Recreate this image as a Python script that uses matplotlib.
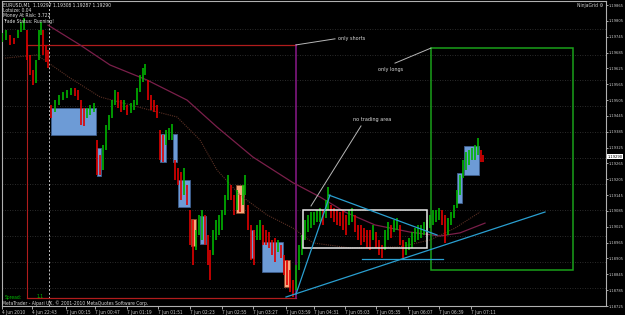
import matplotlib
matplotlib.use("Agg")
import matplotlib.pyplot as plt
import matplotlib.transforms as mtransforms
from matplotlib.patches import Rectangle

plt.rcParams['font.family'] = ['Liberation Sans Narrow', 'DejaVu Sans']
plt.rcParams['font.stretch'] = 'condensed'

# ---- price data (EURUSD M1, bar index ~ minutes) ----
bar_x = [2, 6, 10, 14, 18, 21, 24, 27, 30, 33, 36, 39, 41, 43, 46, 48,
         51, 55, 59, 63, 67, 71, 75, 78, 81, 84, 87, 90, 94, 97, 100, 103,
         106, 109, 112, 115, 118, 121, 124, 127, 131, 134, 137, 140, 143, 145,
         148, 151, 154, 157, 160, 163, 166, 169, 172, 175, 178, 181, 184, 187,
         190, 193, 196, 199, 202, 205, 208, 210, 213, 216, 219, 222, 225, 228,
         231, 234, 237, 240, 243, 245, 248, 251, 254, 257, 260, 263, 266, 269,
         272, 275, 278, 281, 284, 287, 290, 293, 296, 299, 302, 305, 308, 311,
         314, 317, 320, 323, 326, 328, 331, 334, 337, 340, 343, 346, 349, 352,
         355, 358, 361, 364, 367, 370, 373, 376, 379, 382, 385, 388, 391, 394,
         397, 400, 403, 406, 409, 412, 415, 418, 421, 424, 427, 430, 433, 436,
         439, 442, 445, 448, 451, 454, 457, 460, 463, 466, 469, 472, 475, 478,
         481, 483]
bar_hi = [1.19759, 1.19770, 1.19752, 1.19740, 1.19770, 1.19801, 1.19816, 1.19770,
          1.19676, 1.19619, 1.19657, 1.19770, 1.19801, 1.19770, 1.19714, 1.19695,
          1.19486, 1.19505, 1.19524, 1.19536, 1.19543, 1.19551, 1.19551, 1.19543,
          1.19505, 1.19475, 1.19475, 1.19486, 1.19494, 1.19354, 1.19297, 1.19335,
          1.19411, 1.19449, 1.19505, 1.19543, 1.19536, 1.19505, 1.19505, 1.19486,
          1.19494, 1.19505, 1.19551, 1.19600, 1.19627, 1.19642, 1.19581, 1.19524,
          1.19505, 1.19486, 1.19392, 1.19373, 1.19392, 1.19399, 1.19414, 1.19278,
          1.19248, 1.19233, 1.19248, 1.19183, 1.19089, 1.19051, 1.19013, 1.19070,
          1.19089, 1.19070, 1.18994, 1.18937, 1.19013, 1.19051, 1.19070, 1.19089,
          1.19145, 1.19221, 1.19183, 1.19145, 1.19164, 1.19145, 1.19183, 1.19221,
          1.19108, 1.19032, 1.19013, 1.19032, 1.19051, 1.19032, 1.19013, 1.19005,
          1.18975, 1.18983, 1.18975, 1.18956, 1.18918, 1.18899, 1.18861, 1.18823,
          1.18880, 1.18956, 1.18994, 1.19051, 1.19070, 1.19081, 1.19081, 1.19089,
          1.19096, 1.19089, 1.19127, 1.19176, 1.19108, 1.19096, 1.19089, 1.19081,
          1.19089, 1.19070, 1.19089, 1.19096, 1.19070, 1.19032, 1.19032, 1.19020,
          1.19013, 1.19013, 1.19032, 1.19005, 1.18975, 1.18956, 1.19013, 1.19043,
          1.19032, 1.19051, 1.19058, 1.19032, 1.18975, 1.18967, 1.18983, 1.19005,
          1.19020, 1.19032, 1.19032, 1.19043, 1.19051, 1.19070, 1.19089, 1.19089,
          1.19096, 1.19089, 1.19070, 1.19058, 1.19081, 1.19108, 1.19164, 1.19221,
          1.19278, 1.19308, 1.19316, 1.19324, 1.19335, 1.19361, 1.19316, 1.19297]
bar_lo = [1.19725, 1.19733, 1.19714, 1.19717, 1.19740, 1.19763, 1.19770, 1.19657,
          1.19600, 1.19562, 1.19570, 1.19657, 1.19752, 1.19676, 1.19649, 1.19627,
          1.19437, 1.19460, 1.19486, 1.19505, 1.19513, 1.19524, 1.19520, 1.19505,
          1.19411, 1.19407, 1.19437, 1.19449, 1.19460, 1.19221, 1.19221, 1.19240,
          1.19316, 1.19392, 1.19437, 1.19486, 1.19475, 1.19460, 1.19467, 1.19449,
          1.19456, 1.19467, 1.19486, 1.19536, 1.19574, 1.19600, 1.19505, 1.19467,
          1.19460, 1.19437, 1.19278, 1.19270, 1.19335, 1.19354, 1.19354, 1.19202,
          1.19183, 1.19127, 1.19145, 1.19108, 1.18956, 1.18880, 1.18937, 1.18994,
          1.18975, 1.18956, 1.18880, 1.18823, 1.18918, 1.18975, 1.18994, 1.19013,
          1.19070, 1.19127, 1.19127, 1.19070, 1.19089, 1.19081, 1.19108, 1.19145,
          1.19013, 1.18899, 1.18880, 1.18975, 1.18975, 1.18956, 1.18956, 1.18945,
          1.18918, 1.18892, 1.18930, 1.18907, 1.18842, 1.18805, 1.18778, 1.18759,
          1.18786, 1.18861, 1.18918, 1.18975, 1.19005, 1.19020, 1.19032, 1.19043,
          1.19043, 1.19032, 1.19058, 1.19089, 1.19058, 1.19043, 1.19032, 1.19028,
          1.19013, 1.18994, 1.19032, 1.19043, 1.19005, 1.18975, 1.18956, 1.18967,
          1.18945, 1.18937, 1.18975, 1.18945, 1.18918, 1.18907, 1.18937, 1.18975,
          1.18983, 1.19005, 1.19013, 1.18956, 1.18907, 1.18918, 1.18937, 1.18945,
          1.18967, 1.18975, 1.18983, 1.18994, 1.19005, 1.19020, 1.19032, 1.19043,
          1.19051, 1.19032, 1.18964, 1.18994, 1.19032, 1.19058, 1.19096, 1.19145,
          1.19210, 1.19240, 1.19259, 1.19278, 1.19278, 1.19297, 1.19270, 1.19270]

# moving averages (read at a few points)
ma_slow_x = [48, 80, 110, 147, 187, 217, 253, 293, 320, 345, 375, 410, 440, 460, 485]
ma_slow_y = [1.19789, 1.19714, 1.19638, 1.19581, 1.19505, 1.19403, 1.19289, 1.19192,
             1.19138, 1.19081, 1.19032, 1.19005, 1.18990, 1.19002, 1.19039]
ma_fast_x = [5, 37, 70, 100, 150, 177, 200, 217, 240, 267, 293, 313, 350, 400, 430, 455, 480]
ma_fast_y = [1.19664, 1.19676, 1.19589, 1.19517, 1.19467, 1.19441, 1.19354, 1.19240,
             1.19145, 1.19070, 1.19020, 1.18964, 1.18945, 1.18949, 1.18975, 1.19020, 1.19081]

# zones: (x0, x1, top, bottom)
blue_zones = [(51, 96, 1.19475, 1.19373), (97, 101, 1.19324, 1.19217),
              (160, 166, 1.19377, 1.19270), (173, 177, 1.19377, 1.19270),
              (178, 190, 1.19202, 1.19100), (200, 206, 1.19066, 1.18960),
              (250, 254, 1.19013, 1.18907), (262, 283, 1.18967, 1.18854),
              (457, 462, 1.19229, 1.19115), (464, 479, 1.19331, 1.19221)]
salmon_zones = [(191, 196, 1.19055, 1.18952), (236, 244, 1.19183, 1.19077),
                (284, 290, 1.18899, 1.18797)]
shorts_box = (27, 296, 1.19714, 1.18755)
notrade_box = (303, 427, 1.19089, 1.18945)
longs_box = (431, 573, 1.19702, 1.18861)

price_ticks = [1.19865, 1.19805, 1.19745, 1.19685, 1.19625, 1.19565, 1.19505,
               1.19445, 1.19385, 1.19325, 1.19265, 1.19205, 1.19145, 1.19085,
               1.19025, 1.18965, 1.18905, 1.18845, 1.18785, 1.18725]
grid_prices = [1.19774, 1.19676, 1.19581, 1.19483, 1.19384, 1.19286, 1.19187,
               1.19089, 1.18990, 1.18892, 1.18793]
time_pos = [2, 32, 66, 95, 127, 158, 190, 222, 253, 286, 314, 345, 376, 408, 439, 471]
time_labels = ['4 Jun 2010', '4 Jun 22:43', '7 Jun 00:15', '7 Jun 00:47', '7 Jun 01:19',
               '7 Jun 01:51', '7 Jun 02:23', '7 Jun 02:55', '7 Jun 03:27', '7 Jun 03:59',
               '7 Jun 04:31', '7 Jun 05:03', '7 Jun 05:35', '7 Jun 06:07', '7 Jun 06:39',
               '7 Jun 07:11']

# ---- figure ----
fig = plt.figure(figsize=(6.25, 3.15), dpi=100, facecolor='black')
ax = fig.add_axes([2/625, 9/315, 604/625, 305/315])
ax.set_facecolor('black')
ax.set_xlim(2, 606)
ax.set_ylim(1.18725, 1.198803)

for g in grid_prices:
    ax.axhline(g, color='#3a3a3a', lw=0.6, ls=(0, (1, 2)), zorder=0)

ax.axvline(49, color='#c8c8c8', lw=0.7, ls=(0, (2, 2)), zorder=1)

for x0, x1, top, bot in blue_zones:
    ax.add_patch(Rectangle((x0, bot), x1 - x0, top - bot, facecolor='#6d9bd6',
                           edgecolor='#3f5f8f', lw=0.6, zorder=2))
for x0, x1, top, bot in salmon_zones:
    ax.add_patch(Rectangle((x0, bot), x1 - x0, top - bot, facecolor='#f8a67c',
                           edgecolor='#8a4a2a', lw=0.6, zorder=2))

# red "only shorts" frame + purple end line
x0, x1, top, bot = shorts_box
ax.plot([x0, x1], [top, top], color='#b01c1c', lw=0.9, zorder=3)
ax.plot([x0, x1], [bot, bot], color='#b01c1c', lw=0.9, zorder=3)
ax.plot([x0, x0], [top, bot], color='#b01c1c', lw=0.8, zorder=3)
ax.plot([x1, x1], [top, bot], color='#8a1a8a', lw=1.1, zorder=3)

ax.plot(ma_slow_x, ma_slow_y, color='#7a1f4a', lw=0.9, zorder=3)
ax.plot(ma_fast_x, ma_fast_y, color='#5a3024', lw=0.8, ls=(0, (1, 1)), zorder=3)

# candles
cols = []
prev = None
for h, l in zip(bar_hi, bar_lo):
    mid = (h + l) / 2
    cols.append('#00b400' if prev is None or mid >= prev else '#e00000')
    prev = mid
ax.vlines(bar_x, bar_lo, bar_hi, colors=cols, lw=1.2, zorder=4)

# boxes
x0, x1, top, bot = notrade_box
ax.add_patch(Rectangle((x0, bot), x1 - x0, top - bot, fill=False,
                       edgecolor='#e8e8e8', lw=1.1, zorder=5))
x0, x1, top, bot = longs_box
ax.add_patch(Rectangle((x0, bot), x1 - x0, top - bot, fill=False,
                       edgecolor='#1aa01a', lw=1.1, zorder=5))

# trend lines
cyan = '#2a9fd0'
ax.plot([286, 545], [1.18759, 1.19081], color=cyan, lw=0.9, zorder=5)
ax.plot([296, 330], [1.18770, 1.19145], color=cyan, lw=0.9, zorder=5)
ax.plot([329, 437], [1.19145, 1.18994], color=cyan, lw=0.9, zorder=5)
ax.plot([362, 443], [1.18903, 1.18903], color=cyan, lw=0.9, zorder=5)

# annotations
note = '#b8b8b8'
ax.plot([296, 335], [1.19714, 1.19737], color=note, lw=0.7, zorder=5)
ax.plot([395, 431], [1.19645, 1.19702], color=note, lw=0.7, zorder=5)
ax.plot([361, 311], [1.19407, 1.19104], color=note, lw=0.7, zorder=5)
ax.text(338, 1.19740, 'only shorts', color='#d8d8d8', fontsize=4, va='center')
ax.text(378, 1.19619, 'only longs', color='#d8d8d8', fontsize=4, va='center')
ax.text(353, 1.19430, 'no trading area', color='#d8d8d8', fontsize=4, va='center')

# axes styling
ax.yaxis.tick_right()
ax.set_yticks(price_ticks)
ax.set_yticklabels(['%.5f' % p for p in price_ticks])
ax.set_xticks(time_pos)
ax.set_xticklabels(time_labels)
ax.tick_params(axis='y', colors='#c8c8c8', labelsize=3.0, length=1.5, width=0.6, pad=0.5)
ax.tick_params(axis='x', colors='#c8c8c8', labelsize=3.4, length=2, width=0.6, pad=1)
for lab in ax.get_xticklabels():
    lab.set_horizontalalignment('left')
for s in ax.spines.values():
    s.set_color('#b0b0b0')
    s.set_linewidth(0.8)

# current price tag
tr = mtransforms.blended_transform_factory(ax.transAxes, ax.transData)
ax.text(1.003, 1.19290, '1.19290', transform=tr, fontsize=3.0, color='black',
        va='center', ha='left', clip_on=False,
        bbox=dict(boxstyle='square,pad=0.1', facecolor='white', edgecolor='none'))

# overlay texts
hdr = dict(color='#e0e0e0', fontsize=3.6, va='center')
fig.text(3/625, 1 - 5/315, 'EURUSD,M1  1.19297 1.19308 1.19287 1.19290', **hdr)
fig.text(3/625, 1 - 10.5/315, 'Lotsize: 0.04', **hdr)
fig.text(3/625, 1 - 16/315, 'Money At Risk: 3.722', **hdr)
fig.text(3/625, 1 - 22/315, 'Trade Status: Running!', **hdr)
fig.text(603/625, 1 - 5/315, 'NinjaGrid \u2699', color='#d0d0d0', fontsize=3.6, va='center', ha='right')
fig.text(5/625, 1 - 297/315, 'Spread:', color='#00c000', fontsize=3.6, va='center')
fig.text(37/625, 1 - 297/315, '1.1', color='#00c000', fontsize=3.6, va='center')
fig.text(2/625, 1 - 303/315, 'MetaTrader - Alpari UK, \u00a9 2001-2010 MetaQuotes Software Corp.',
         color='#d8d8d8', fontsize=3.6, va='center')

fig.savefig('out.png', dpi=100, facecolor='black')
